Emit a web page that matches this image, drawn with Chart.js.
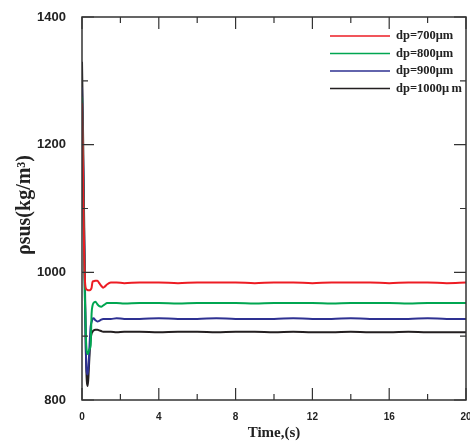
<!DOCTYPE html>
<html>
<head>
<meta charset="utf-8">
<script src="https://cdn.jsdelivr.net/npm/chart.js@4.4.1/dist/chart.umd.min.js"></script>
<style>
  html, body { margin: 0; padding: 0; background: #ffffff; }
  #box { width: 470px; height: 448px; }
</style>
</head>
<body>
<div id="box"><canvas id="grafico"></canvas></div>
<script>
// tiempo (s)
const tiempo = [0, 0.05, 0.1, 0.15, 0.2, 0.25, 0.3, 0.35, 0.4, 0.45, 0.5, 0.55, 0.6, 0.7, 0.8, 0.9, 1.0, 1.1, 1.2, 1.3, 1.5, 1.8, 2.2, 3, 4, 5, 6, 7, 8, 9, 10, 11, 12, 13, 14, 15, 16, 17, 18, 19, 20];

// densidad de suspensión (kg/m3) por diámetro de partícula
const dp700 = [1265, 1160, 1050, 990, 975, 973, 972, 972, 972, 973, 976, 985, 986, 987, 987, 983, 979, 976, 978, 981, 984, 984, 983, 984, 984, 983, 984, 984, 984, 983, 984, 984, 983, 984, 984, 984, 983, 984, 984, 983, 984];
const dp800 = [1275, 1170, 1060, 960, 900, 876, 872, 876, 880, 885, 935, 948, 952, 954, 950, 947, 946, 948, 950, 952, 952, 952, 951, 952, 952, 951, 952, 952, 952, 951, 952, 952, 952, 951, 952, 952, 952, 951, 952, 952, 952];
const dp900 = [1290, 1190, 1080, 970, 880, 843, 840, 858, 890, 915, 922, 927, 928, 925, 923, 924, 926, 927, 927, 927, 927, 928, 927, 927, 928, 927, 927, 928, 927, 927, 927, 928, 927, 927, 928, 927, 927, 927, 928, 927, 927];
const dp1000 = [1330, 1230, 1110, 990, 880, 830, 822, 845, 875, 895, 904, 907, 909, 910, 910, 909, 908, 907, 907, 907, 907, 906, 907, 907, 906, 907, 907, 906, 907, 907, 906, 907, 906, 906, 907, 906, 906, 907, 906, 906, 906];

const etiquetas = ["dp=700\u03BCm", "dp=800\u03BCm", "dp=900\u03BCm", "dp=1000\u03BC\u2009m"];
const colores = ["#ed1c24", "#00a651", "#2e3192", "#231f20"];
const ticksX = [0, 4, 8, 12, 16, 20];
const ticksY = [800, 1000, 1200, 1400];

const series = [dp700, dp800, dp900, dp1000];

function armarPuntos(valores) {
    return valores.map((v, i) => ({ x: tiempo[i], y: v }));
}

// marco, marcas hacia adentro, leyenda y título del eje y
const marcoPlugin = {
    id: 'marco',
    afterDraw(chart) {
        const ctx = chart.ctx;
        const a = chart.chartArea;
        const sx = chart.scales.x;
        const sy = chart.scales.y;
        ctx.save();
        ctx.strokeStyle = '#333333';
        ctx.lineWidth = 1.5;
        ctx.strokeRect(a.left, a.top, a.right - a.left, a.bottom - a.top);

        ctx.lineWidth = 1.2;
        ctx.beginPath();
        for (let v = 0; v <= 20; v += 2) {
            const px = sx.getPixelForValue(v);
            const len = v % 4 === 0 ? 12 : 6;
            ctx.moveTo(px, a.bottom); ctx.lineTo(px, a.bottom - len);
            ctx.moveTo(px, a.top); ctx.lineTo(px, a.top + len);
        }
        for (let v = 800; v <= 1400; v += 100) {
            const py = sy.getPixelForValue(v);
            const len = v % 200 === 0 ? 12 : 6;
            ctx.moveTo(a.left, py); ctx.lineTo(a.left + len, py);
            ctx.moveTo(a.right, py); ctx.lineTo(a.right - len, py);
        }
        ctx.stroke();

        // leyenda dentro del área
        ctx.font = 'bold 12.5px "Liberation Serif"';
        ctx.textBaseline = 'middle';
        ctx.textAlign = 'left';
        chart.data.datasets.forEach((ds, i) => {
            const y = 36 + i * 17.5;
            ctx.strokeStyle = ds.borderColor;
            ctx.lineWidth = 1.5;
            ctx.beginPath();
            ctx.moveTo(330, y); ctx.lineTo(390, y);
            ctx.stroke();
            ctx.fillStyle = '#222222';
            ctx.fillText(ds.label, 396, y);
        });

        // título eje y
        ctx.translate(25, 205);
        ctx.rotate(-Math.PI / 2);
        ctx.textAlign = 'center';
        ctx.font = 'bold 20px "Liberation Serif"';
        ctx.fillStyle = '#222222';
        ctx.fillText('\u03C1sus(kg/m\u00B3)', 0, 0);
        ctx.restore();
    }
};

const ctx = document.getElementById('grafico').getContext('2d');
new Chart(ctx, {
    type: 'line',
    data: {
        datasets: series.map((s, i) => ({
            label: etiquetas[i],
            data: armarPuntos(s),
            borderColor: colores[i],
            backgroundColor: colores[i],
            borderWidth: 2,
            pointRadius: 0,
            fill: false,
            cubicInterpolationMode: 'monotone'
        }))
    },
    options: {
        responsive: true,
        maintainAspectRatio: false,
        animation: false,
        layout: { padding: { top: 17, right: 4, left: 0, bottom: 0 } },
        plugins: {
            legend: { display: false },
            tooltip: { enabled: false }
        },
        scales: {
            x: {
                type: 'linear',
                min: 0,
                max: 20,
                grid: { display: false },
                border: { display: false },
                afterBuildTicks: (scale) => { scale.ticks = ticksX.map(v => ({ value: v })); },
                ticks: {
                    padding: 3,
                    color: '#222222',
                    maxRotation: 0,
                    font: { family: '"Liberation Sans"', size: 10, weight: 'bold' },
                    callback: (v) => String(v)
                },
                title: {
                    display: true,
                    text: 'Time,(s)',
                    color: '#222222',
                    padding: { top: 0, bottom: 6 },
                    font: { family: '"Liberation Serif"', size: 15, weight: 'bold' }
                },
                afterFit: (scale) => {
                    scale.height = 48;
                    scale.paddingLeft = 0;
                    scale.paddingRight = 0;
                }
            },
            y: {
                min: 800,
                max: 1400,
                grid: { display: false },
                border: { display: false },
                afterBuildTicks: (scale) => { scale.ticks = ticksY.map(v => ({ value: v })); },
                ticks: {
                    padding: 8,
                    color: '#222222',
                    font: { family: '"Liberation Sans"', size: 13, weight: 'bold' },
                    callback: (v) => String(v)
                },
                afterFit: (scale) => {
                    scale.width = 82;
                    scale.paddingTop = 0;
                    scale.paddingBottom = 0;
                }
            }
        }
    },
    plugins: [marcoPlugin]
});
</script>
</body>
</html>
